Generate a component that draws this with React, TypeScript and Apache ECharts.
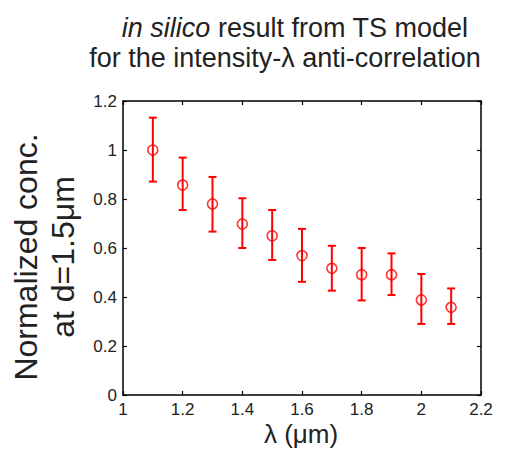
import React, { useEffect, useRef } from "react";
import * as echarts from "echarts";

const lambdaValues = [1.1, 1.2, 1.3, 1.4, 1.5, 1.6, 1.7, 1.8, 1.9, 2.0, 2.1];
const concValues = [1.0, 0.857, 0.78, 0.698, 0.65, 0.569, 0.517, 0.491, 0.491, 0.388, 0.358];
const errLow = [0.871, 0.755, 0.667, 0.6, 0.551, 0.462, 0.426, 0.386, 0.408, 0.29, 0.29];
const errHigh = [1.132, 0.969, 0.89, 0.803, 0.755, 0.678, 0.609, 0.6, 0.578, 0.494, 0.435];

const titleLine1Italic = "in silico";
const titleLine1Rest = " result from TS model";
const titleLine2 = "for the intensity-λ anti-correlation";
const yLabelLines = ["Normalized conc.", "at d=1.5μm"];
const xLabel = "λ (μm)";

const FONT = "'Liberation Sans', Arial, Helvetica, sans-serif";
const TEXT = "#222";

export default function App() {
  const ref = useRef<HTMLDivElement>(null);
  useEffect(() => {
    if (!ref.current) return;
    const chart = echarts.init(ref.current, undefined, { renderer: "svg" });
    const axisLine = { show: true, onZero: false, lineStyle: { color: "#000", width: 1.5 } };
    const axisTick = { show: true, inside: true, length: 4, lineStyle: { color: "#000", width: 1.2 } };
    const labelStyle = { color: TEXT, fontSize: 17, fontFamily: FONT };
    chart.setOption({
      animation: false,
      backgroundColor: "#fff",
      grid: { left: 123, top: 101, width: 358, height: 294, containLabel: false },
      xAxis: [
        {
          type: "value", position: "bottom", min: 1, max: 2.2, interval: 0.2,
          axisLine, axisTick, splitLine: { show: false },
          axisLabel: { ...labelStyle, margin: 6 },
        },
        {
          type: "value", position: "top", min: 1, max: 2.2, interval: 0.2,
          axisLine, axisTick, splitLine: { show: false }, axisLabel: { show: false },
        },
      ],
      yAxis: [
        {
          type: "value", position: "left", min: 0, max: 1.2, interval: 0.2,
          axisLine, axisTick, splitLine: { show: false },
          axisLabel: { ...labelStyle, margin: 6 },
        },
        {
          type: "value", position: "right", min: 0, max: 1.2, interval: 0.2,
          axisLine, axisTick, splitLine: { show: false }, axisLabel: { show: false },
        },
      ],
      series: [
        {
          type: "custom",
          xAxisIndex: 0,
          yAxisIndex: 0,
          data: lambdaValues.map((x, i) => [x, errLow[i], errHigh[i]]),
          encode: { x: 0, y: [1, 2] },
          renderItem: (params: any, api: any) => {
            const x = api.value(0);
            const lo = api.coord([x, api.value(1)]);
            const hi = api.coord([x, api.value(2)]);
            const hw = 4;
            const style = { stroke: "#ff0000", lineWidth: 2 };
            return {
              type: "group",
              children: [
                { type: "line", shape: { x1: lo[0], y1: lo[1], x2: hi[0], y2: hi[1] }, style },
                { type: "line", shape: { x1: lo[0] - hw, y1: lo[1], x2: lo[0] + hw, y2: lo[1] }, style },
                { type: "line", shape: { x1: hi[0] - hw, y1: hi[1], x2: hi[0] + hw, y2: hi[1] }, style },
              ],
            };
          },
          z: 2,
        },
        {
          type: "scatter",
          data: lambdaValues.map((x, i) => [x, concValues[i]]),
          symbol: "circle",
          symbolSize: 10,
          itemStyle: { color: "rgba(255,255,255,0)", borderColor: "#ff0000", borderWidth: 1.6 },
          z: 3,
        },
      ],
      graphic: [
        {
          type: "text",
          x: 295,
          y: 41,
          style: {
            text: `{i|${titleLine1Italic}}{r|${titleLine1Rest}}`,
            rich: {
              i: { fontStyle: "italic", fontSize: 27, fontFamily: FONT, fill: TEXT },
              r: { fontSize: 27, fontFamily: FONT, fill: TEXT },
            },
            fontSize: 27,
            fontFamily: FONT,
            fill: TEXT,
            align: "center",
            verticalAlign: "bottom",
          },
        },
        {
          type: "text",
          x: 285,
          y: 71,
          style: {
            text: titleLine2,
            fontSize: 27,
            fontFamily: FONT,
            fill: TEXT,
            align: "center",
            verticalAlign: "bottom",
          },
        },
        {
          type: "text",
          x: 44,
          y: 257,
          rotation: Math.PI / 2,
          style: {
            text: yLabelLines.join("\n"),
            fontSize: 32,
            lineHeight: 37,
            fontFamily: FONT,
            fill: TEXT,
            align: "center",
            verticalAlign: "middle",
          },
        },
        {
          type: "text",
          x: 301,
          y: 434,
          style: {
            text: xLabel,
            fontSize: 26,
            fontFamily: FONT,
            fill: TEXT,
            align: "center",
            verticalAlign: "middle",
          },
        },
      ],
    });
    return () => chart.dispose();
  }, []);
  return (
    <div
      ref={ref}
      style={{ position: "fixed", left: 0, top: 0, width: 511, height: 451 }}
    />
  );
}
